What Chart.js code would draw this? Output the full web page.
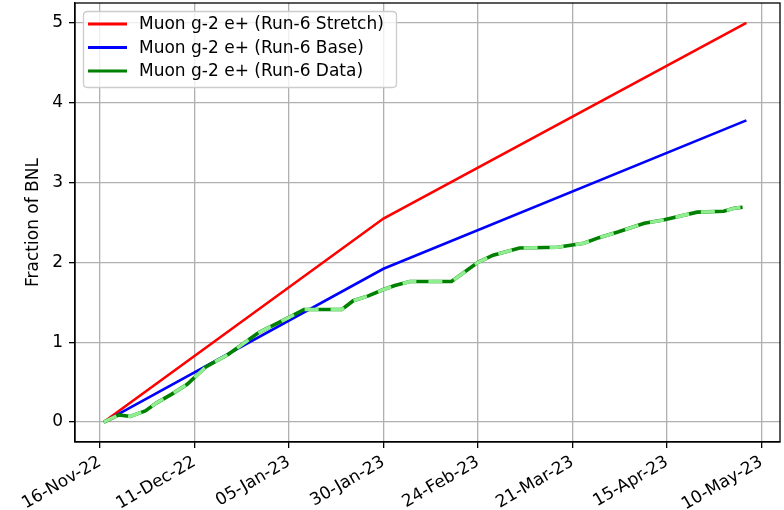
<!DOCTYPE html>
<html><head><meta charset="utf-8">
<script src="https://cdn.jsdelivr.net/npm/chart.js@4.4.1/dist/chart.umd.min.js"></script>
<style>html,body{margin:0;padding:0;background:#fff}#wrap{width:784px;height:510px}</style>
</head><body><div id="wrap"><canvas id="c" width="784" height="510"></canvas></div>
<script>
// ---- data ----
const seriesLabels = ['Muon g-2 e+ (Run-6 Stretch)', 'Muon g-2 e+ (Run-6 Base)', 'Muon g-2 e+ (Run-6 Data)'];
const seriesColors = ['#ff0000', '#0000ff', '#008000'];
const stretchDates = ['2022-11-17', '2023-01-30', '2023-05-06'];
const stretchValues = [0, 2.55, 5.0];
const baseDates = ['2022-11-17', '2023-01-30', '2023-05-06'];
const baseValues = [0, 1.92, 3.78];
const dataDates = ['2022-11-17','2022-11-21','2022-11-24','2022-11-28','2022-12-01','2022-12-05','2022-12-09','2022-12-14','2022-12-20','2022-12-28','2023-01-05','2023-01-09','2023-01-19','2023-01-22','2023-01-26','2023-01-30','2023-02-02','2023-02-06','2023-02-17','2023-02-24','2023-02-28','2023-03-07','2023-03-17','2023-03-24','2023-03-28','2023-04-02','2023-04-09','2023-04-14','2023-04-23','2023-04-30','2023-05-03','2023-05-05'];
const dataValues = [0, 0.09, 0.07, 0.14, 0.24, 0.35, 0.47, 0.69, 0.85, 1.12, 1.31, 1.41, 1.41, 1.52, 1.58, 1.66, 1.71, 1.76, 1.76, 2.0, 2.09, 2.18, 2.19, 2.24, 2.31, 2.38, 2.49, 2.53, 2.63, 2.64, 2.68, 2.69];
const xTickDates = ['2022-11-16','2022-12-11','2023-01-05','2023-01-30','2023-02-24','2023-03-21','2023-04-15','2023-05-10'];
const xTickLabels = ['16-Nov-22','11-Dec-22','05-Jan-23','30-Jan-23','24-Feb-23','21-Mar-23','15-Apr-23','10-May-23'];
const yTicks = [0, 1, 2, 3, 4, 5];
const yTitle = 'Fraction of BNL';

// ---- helpers ----
const ORIGIN = Date.UTC(2022, 10, 16);
function dayOf(s) { const p = s.split('-').map(Number); return (Date.UTC(p[0], p[1] - 1, p[2]) - ORIGIN) / 86400000; }
function pts(dates, vals) { return dates.map((d, i) => ({ x: dayOf(d), y: vals[i] })); }
const xTickVals = xTickDates.map(dayOf);
const FONT = 'DejaVu Sans';

const framePlugin = {
  id: 'frame',
  afterDatasetsDraw(chart) {
    const { ctx, chartArea: a } = chart;
    ctx.save();
    ctx.strokeStyle = '#000'; ctx.lineWidth = 1.3;
    ctx.strokeRect(a.left, a.top, a.right - a.left, a.bottom - a.top);
    // legend
    const bx = 83.5, by = 11.5, bw = 313, bh = 76, r = 4;
    ctx.beginPath();
    ctx.moveTo(bx + r, by); ctx.lineTo(bx + bw - r, by); ctx.quadraticCurveTo(bx + bw, by, bx + bw, by + r);
    ctx.lineTo(bx + bw, by + bh - r); ctx.quadraticCurveTo(bx + bw, by + bh, bx + bw - r, by + bh);
    ctx.lineTo(bx + r, by + bh); ctx.quadraticCurveTo(bx, by + bh, bx, by + bh - r);
    ctx.lineTo(bx, by + r); ctx.quadraticCurveTo(bx, by, bx + r, by);
    ctx.closePath();
    ctx.fillStyle = 'rgba(255,255,255,0.8)'; ctx.fill();
    ctx.strokeStyle = '#cccccc'; ctx.lineWidth = 1.3; ctx.stroke();
    const rows = [24, 47.5, 71];
    ctx.font = '17px "' + FONT + '"';
    ctx.textBaseline = 'middle'; ctx.textAlign = 'left';
    seriesLabels.forEach((lab, i) => {
      ctx.strokeStyle = seriesColors[i]; ctx.lineWidth = 3;
      ctx.beginPath(); ctx.moveTo(88, rows[i]); ctx.lineTo(127, rows[i]); ctx.stroke();
      ctx.fillStyle = '#000'; ctx.fillText(lab, 139, rows[i] + 1);
    });
    ctx.restore();
  }
};

new Chart(document.getElementById('c'), {
  type: 'line',
  data: {
    datasets: [
      { label: seriesLabels[0], data: pts(stretchDates, stretchValues), borderColor: seriesColors[0], borderWidth: 2.6, pointRadius: 0, order: 4 },
      { label: seriesLabels[1], data: pts(baseDates, baseValues), borderColor: seriesColors[1], borderWidth: 2.6, pointRadius: 0, order: 3 },
      { label: seriesLabels[2], data: pts(dataDates, dataValues), borderColor: seriesColors[2], borderWidth: 3.6, pointRadius: 0, order: 2 },
      { label: seriesLabels[2] + ' overlay', data: pts(dataDates, dataValues), borderColor: '#90ee90', borderWidth: 3.4, borderDash: [14, 12], pointRadius: 0, order: 1 }
    ]
  },
  options: {
    responsive: false, animation: false, devicePixelRatio: 1,
    layout: { padding: { top: 3, right: 4, left: 0, bottom: 0 } },
    plugins: { legend: { display: false }, tooltip: { enabled: false } },
    elements: { line: { tension: 0, borderCapStyle: 'butt' } },
    scales: {
      x: {
        type: 'linear', min: -6.6, max: 179.9,
        afterBuildTicks: s => { s.ticks = xTickVals.map(v => ({ value: v })); },
        afterFit: s => { s.height = 68; s.paddingLeft = 0; s.paddingRight = 0; },
        grid: { color: '#b0b0b0', lineWidth: 1.3, tickColor: '#000', tickLength: 6, tickWidth: 1.3 },
        border: { color: '#000', width: 1.3 },
        ticks: {
          autoSkip: false, minRotation: 30, maxRotation: 30, padding: 4, color: '#000',
          font: { family: FONT, size: 17 },
          callback: v => { const i = xTickVals.indexOf(v); return i >= 0 ? xTickLabels[i] : ''; }
        }
      },
      y: {
        type: 'linear', min: -0.25, max: 5.25,
        afterBuildTicks: s => { s.ticks = yTicks.map(v => ({ value: v })); },
        afterFit: s => { s.width = 75; s.paddingTop = 0; s.paddingBottom = 0; },
        grid: { color: '#b0b0b0', lineWidth: 1.3, tickColor: '#000', tickLength: 6, tickWidth: 1.3 },
        border: { color: '#000', width: 1.3 },
        ticks: { padding: 6, color: '#000', font: { family: FONT, size: 17 } },
        title: { display: true, text: yTitle, color: '#000', font: { family: FONT, size: 17 }, padding: { top: 23, bottom: 0 } }
      }
    }
  },
  plugins: [framePlugin]
});
</script>
</body></html>
